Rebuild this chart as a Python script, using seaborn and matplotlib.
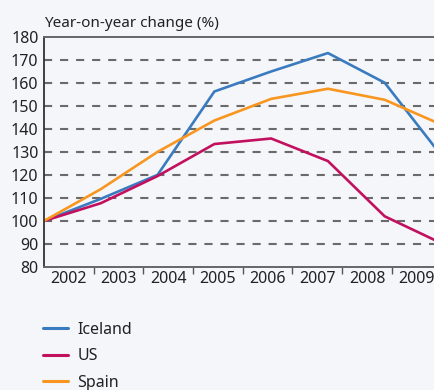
import matplotlib
matplotlib.use("Agg")
import matplotlib.pyplot as plt
import numpy as np
import pandas as pd
import seaborn as sns

# Index values (2002 = 100), year-on-year change in %
years = [2002, 2003, 2004, 2005, 2006, 2007, 2008, 2009]
iceland = [100, 109.6, 120, 156.2, 164.9, 172.9, 160, 128.3]
us = [100, 107.7, 119.5, 133.4, 135.8, 126, 102, 90.3]
spain = [100, 113.8, 130, 143.6, 153, 157.4, 152.6, 141.8]

series_names = ["Iceland", "US", "Spain"]
series_colors = ["#3a7bc0", "#c2105f", "#f8961f"]

y_ticks = [80, 90, 100, 110, 120, 130, 140, 150, 160, 170, 180]
title_text = "Year-on-year change (%)"

df = pd.DataFrame({
    "year": years * 3,
    "value": iceland + us + spain,
    "country": [n for n in series_names for _ in years],
})

bg = "#f4f6fa"
sns.set_theme(style="white")
plt.rcParams["font.family"] = ["Noto Sans", "DejaVu Sans"]

W, H = 434, 390
fig = plt.figure(figsize=(W / 100, H / 100), dpi=100, facecolor=bg)
ax = fig.add_axes([44 / W, 1 - 267 / H, (441.5 - 44) / W, (267 - 36.7) / H])
ax.set_facecolor(bg)

sns.lineplot(data=df, x="year", y="value", hue="country",
             hue_order=series_names, palette=series_colors,
             linewidth=1.9, ax=ax, legend=True)

ax.set_xlim(years[0], years[-1])
ax.set_ylim(y_ticks[0], y_ticks[-1])

# horizontal dashed reference lines
for v in y_ticks[1:-1]:
    ax.axhline(v, color="#6a6a6a", lw=1.5, dashes=(3.9, 3.8), zorder=0)

ax.set_yticks(y_ticks)
ax.set_yticklabels([str(v) for v in y_ticks], fontsize=11.5, color="#222222")
ax.tick_params(axis="y", length=0, pad=4)

# category bands: each year label sits in one of eight equal bands
n = len(years)
span = years[-1] - years[0]
edges = [years[0] + i * span / n for i in range(n + 1)]
centers = [(edges[i] + edges[i + 1]) / 2 for i in range(n)]
ax.set_xticks(edges[1:-1])
ax.set_xticklabels([])
ax.set_xticks(centers, minor=True)
ax.set_xticklabels([str(y) for y in years], minor=True, fontsize=11.5, color="#222222")
ax.tick_params(axis="x", which="major", direction="out", length=5, width=1,
               color="#555555", bottom=True)
ax.tick_params(axis="x", which="minor", length=0, pad=3)

ax.set_xlabel("")
ax.set_ylabel("")
for side in ["top", "bottom"]:
    ax.spines[side].set_color("#666666")
    ax.spines[side].set_linewidth(1.4)
ax.spines["left"].set_color("#333333")
ax.spines["left"].set_linewidth(1.3)
ax.spines["right"].set_visible(False)

fig.text(44 / W, 1 - 27 / H, title_text, fontsize=11, color="#222222",
         ha="left", va="baseline")

handles, labels = ax.get_legend_handles_labels()
ax.legend_.remove()
leg = fig.legend(handles, labels, loc="upper left",
                 bbox_to_anchor=(43 / W, 1 - 322 / H),
                 frameon=False, fontsize=11.5, handlelength=1.55,
                 handletextpad=0.6, labelspacing=0.65, borderpad=0,
                 borderaxespad=0)
for t in leg.get_texts():
    t.set_color("#222222")
for h in leg.get_lines():
    h.set_linewidth(2.2)

fig.savefig("out.png", dpi=100, facecolor=bg)
